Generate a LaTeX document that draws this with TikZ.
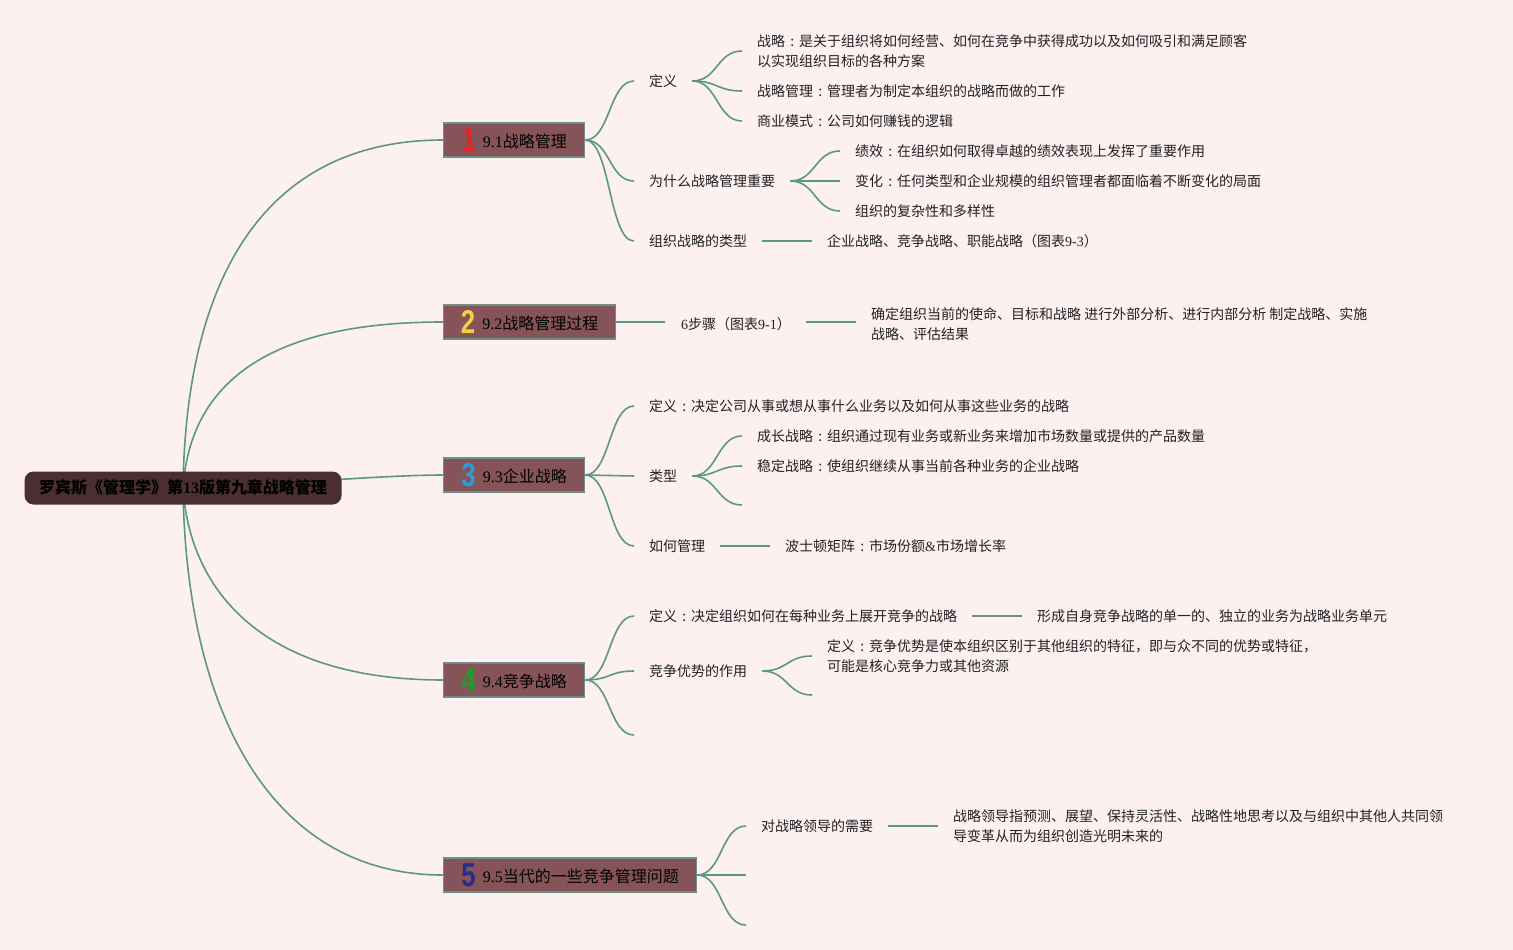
\documentclass[tikz,border=0pt]{standalone}
\usepackage{fontspec}
\usepackage{graphicx}
\setmainfont{Noto Sans CJK SC}
\newfontfamily\ser{Liberation Serif}
\newfontfamily\numfont{Liberation Sans}
\usetikzlibrary{calc}
\definecolor{bgc}{HTML}{FDF0F1}
\definecolor{linec}{HTML}{5C9784}
\definecolor{brfill}{HTML}{865458}
\definecolor{brdraw}{HTML}{6F8F86}
\definecolor{rootfill}{HTML}{4A2E30}
\definecolor{txtc}{HTML}{222222}
\definecolor{nred}{HTML}{E3242B}
\definecolor{nyel}{HTML}{F2CF45}
\definecolor{nblu}{HTML}{2E9BD6}
\definecolor{ngrn}{HTML}{1E9A2E}
\definecolor{nnav}{HTML}{22308C}
\newcommand\bignum[2]{\raisebox{-4pt}{\textcolor{#1}{\numfont\bfseries\fontsize{33}{33}\selectfont\scalebox{0.78}[1]{#2}}}\hspace{7pt}}
\newcommand\cc{\makebox[1em][c]{:}}
\pgfdeclarelayer{bg}
\pgfsetlayers{bg,main}
\begin{document}
\begin{tikzpicture}[x=1pt,y=-1pt,
  txt/.style={anchor=west, inner sep=0pt, font=\fontsize{14}{20}\selectfont, text=txtc, align=left},
  br/.style={anchor=west, fill=brfill, draw=brdraw, line width=1.2pt, minimum height=34pt, inner xsep=4pt, font=\fontsize{16}{18}\selectfont, text=black},
  rootbox/.style={fill=rootfill, rounded corners=9pt, minimum width=317pt, minimum height=33pt, font=\fontsize{16}{18}\selectfont\bfseries, text=black},
  link/.style={draw=linec, line width=1.6pt},
  brk/.style={to path={.. controls ($(\tikztostart)+(25,0)$) and ($(\tikztotarget)+(-25,0)$) .. (\tikztotarget)}}
]
\useasboundingbox (0,0) rectangle (1513,950);

% root and branches
\node[rootbox] (root) at (183,488) {罗宾斯《管理学》第{\ser\bfseries 13}版第九章战略管理};
\node[br, minimum width=141pt] (b1) at (443,140) {\bignum{nred}{1}{\ser 9.1}战略管理};
\node[br, minimum width=172pt] (b2) at (443,322) {\bignum{nyel}{2}{\ser 9.2}战略管理过程};
\node[br, minimum width=141pt] (b3) at (443,475) {\bignum{nblu}{3}{\ser 9.3}企业战略};
\node[br, minimum width=141pt] (b4) at (443,680) {\bignum{ngrn}{4}{\ser 9.4}竞争战略};
\node[br, minimum width=253pt] (b5) at (443,875) {\bignum{nnav}{5}{\ser 9.5}当代的一些竞争管理问题};

% branch 1
\node[txt] (d1) at (649,81) {定义};
\node[txt] (w1) at (649,181) {为什么战略管理重要};
\node[txt] (t1) at (649,241) {组织战略的类型};
\node[txt] (d1a) at (757,51) {战略\cc 是关于组织将如何经营、如何在竞争中获得成功以及如何吸引和满足顾客\\以实现组织目标的各种方案};
\node[txt] (d1b) at (757,91) {战略管理\cc 管理者为制定本组织的战略而做的工作};
\node[txt] (d1c) at (757,121) {商业模式\cc 公司如何赚钱的逻辑};
\node[txt] (w1a) at (855,151) {绩效\cc 在组织如何取得卓越的绩效表现上发挥了重要作用};
\node[txt] (w1b) at (855,181) {变化\cc 任何类型和企业规模的组织管理者都面临着不断变化的局面};
\node[txt] (w1c) at (855,211) {组织的复杂性和多样性};
\node[txt] (t1a) at (827,241) {企业战略、竞争战略、职能战略（图表{\ser 9-3}）};

% branch 2
\node[txt] (s2) at (681,324) {{\ser 6}步骤（图表{\ser 9-1}）};
\node[txt] (s2a) at (871,324) {确定组织当前的使命、目标和战略 进行外部分析、进行内部分析 制定战略、实施\\战略、评估结果};
\coordinate (s2in) at (665,322);
\coordinate (s2out) at (806,322);
\coordinate (s2end) at (856,322);

% branch 3
\node[txt] (d3) at (649,406) {定义\cc 决定公司从事或想从事什么业务以及如何从事这些业务的战略};
\node[txt] (ty3) at (649,476) {类型};
\node[txt] (h3) at (649,546) {如何管理};
\node[txt] (ty3a) at (757,436) {成长战略\cc 组织通过现有业务或新业务来增加市场数量或提供的产品数量};
\node[txt] (ty3b) at (757,466) {稳定战略\cc 使组织继续从事当前各种业务的企业战略};
\coordinate (ty3c) at (742,505);
\node[txt] (h3a) at (785,546) {波士顿矩阵\cc 市场份额{\ser\&}市场增长率};

% branch 4
\node[txt] (d4) at (649,616) {定义\cc 决定组织如何在每种业务上展开竞争的战略};
\node[txt] (c4) at (649,671) {竞争优势的作用};
\coordinate (e4) at (634,735);
\node[txt] (d4a) at (1037,616) {形成自身竞争战略的单一的、独立的业务为战略业务单元};
\node[txt] (c4a) at (827,656) {定义\cc 竞争优势是使本组织区别于其他组织的特征，即与众不同的优势或特征，\\可能是核心竞争力或其他资源};
\coordinate (c4b) at (812,695);

% branch 5
\node[txt] (n5) at (761,826) {对战略领导的需要};
\coordinate (e5a) at (746,875);
\coordinate (e5b) at (746,925);
\node[txt] (n5a) at (953,826) {战略领导指预测、展望、保持灵活性、战略性地思考以及与组织中其他人共同领\\导变革从而为组织创造光明未来的};

\begin{pgfonlayer}{bg}
\fill[bgc] (0,0) rectangle (1513,950);
% root links
\draw[link] (root.center) .. controls (186,270) and (270,140) .. (b1.west);
\draw[link] (root.center) .. controls (190,385) and (265,322) .. (b2.west);
\draw[link] (root.center) .. controls (260,486) and (380,475) .. (b3.west);
\draw[link] (root.center) .. controls (190,593) and (265,680) .. (b4.west);
\draw[link] (root.center) .. controls (186,710) and (270,875) .. (b5.west);
% branch 1
\draw[link] (b1.east) to[brk] ([xshift=-15pt]d1.west);
\draw[link] (b1.east) to[brk] ([xshift=-15pt]w1.west);
\draw[link] (b1.east) to[brk] ([xshift=-15pt]t1.west);
\draw[link] ([xshift=15pt]d1.east) to[brk] ([xshift=-15pt]d1a.west);
\draw[link] ([xshift=15pt]d1.east) to[brk] ([xshift=-15pt]d1b.west);
\draw[link] ([xshift=15pt]d1.east) to[brk] ([xshift=-15pt]d1c.west);
\draw[link] ([xshift=15pt]w1.east) to[brk] ([xshift=-15pt]w1a.west);
\draw[link] ([xshift=15pt]w1.east) to[brk] ([xshift=-15pt]w1b.west);
\draw[link] ([xshift=15pt]w1.east) to[brk] ([xshift=-15pt]w1c.west);
\draw[link] ([xshift=15pt]t1.east) -- ([xshift=-15pt]t1a.west);
% branch 2
\draw[link] (b2.east) -- (s2in);
\draw[link] (s2out) -- (s2end);
% branch 3
\draw[link] (b3.east) to[brk] ([xshift=-15pt]d3.west);
\draw[link] (b3.east) to[brk] ([xshift=-15pt]ty3.west);
\draw[link] (b3.east) to[brk] ([xshift=-15pt]h3.west);
\draw[link] ([xshift=15pt]ty3.east) to[brk] ([xshift=-15pt]ty3a.west);
\draw[link] ([xshift=15pt]ty3.east) to[brk] ([xshift=-15pt]ty3b.west);
\draw[link] ([xshift=15pt]ty3.east) to[brk] (ty3c);
\draw[link] ([xshift=15pt]h3.east) -- ([xshift=-15pt]h3a.west);
% branch 4
\draw[link] (b4.east) to[brk] ([xshift=-15pt]d4.west);
\draw[link] (b4.east) to[brk] ([xshift=-15pt]c4.west);
\draw[link] (b4.east) to[brk] (e4);
\draw[link] ([xshift=15pt]d4.east) -- ([xshift=-15pt]d4a.west);
\draw[link] ([xshift=15pt]c4.east) to[brk] ([xshift=-15pt]c4a.west);
\draw[link] ([xshift=15pt]c4.east) to[brk] (c4b);
% branch 5
\draw[link] (b5.east) to[brk] ([xshift=-15pt]n5.west);
\draw[link] (b5.east) to[brk] (e5a);
\draw[link] (b5.east) to[brk] (e5b);
\draw[link] ([xshift=15pt]n5.east) -- ([xshift=-15pt]n5a.west);
\end{pgfonlayer}
\end{tikzpicture}
\end{document}
